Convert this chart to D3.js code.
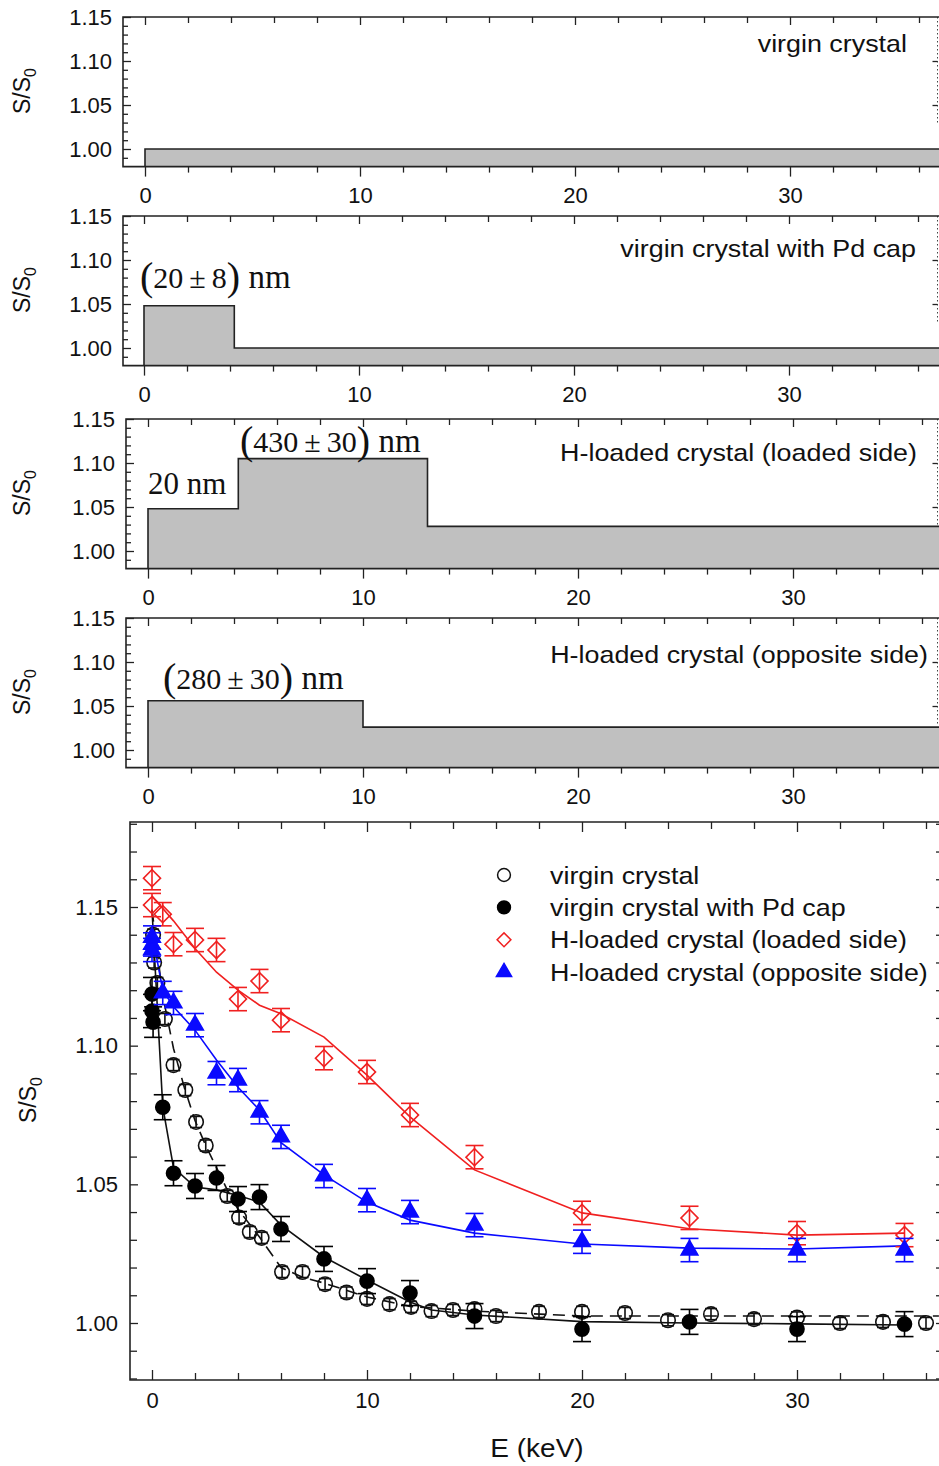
<!DOCTYPE html>
<meta charset="utf-8">
<head>
  <title>Positron S parameter profiles</title>
</head>
<style>
body { margin: 0; background: #fff; }
svg { display: block; font-family: "Liberation Sans", Arial, sans-serif; }
.serif { font-family: "Liberation Serif", "Times New Roman", serif; }
</style>
<body>
  <div id="content"></div>
  <script src="https://cdnjs.cloudflare.com/ajax/libs/d3/7.8.5/d3.min.js"></script>
  <script>

// --- step profiles of the four fitted layer models (E in keV, S/S0)
var profVirgin   = [[0, 1.000]];
var profPdCap    = [[0, 1.048], [4.2, 1.000]];
var profLoaded   = [[0, 1.048], [4.2, 1.105], [13.0, 1.028]];
var profOpposite = [[0, 1.056], [10.0, 1.026]];

var panelTitles = ['virgin crystal', 'virgin crystal with Pd cap',
  'H-loaded crystal (loaded side)', 'H-loaded crystal (opposite side)'];
var xTickLabels = [0, 10, 20, 30];
var yTickLabels = [1.00, 1.05, 1.10, 1.15];

// --- measured points, bottom panel
var virginE = [0.05, 0.1, 0.25, 0.6, 1.0, 1.55, 2.05, 2.5, 3.5, 4.05, 4.55, 5.1, 6.05, 7.0, 8.05, 9.05, 10.0, 11.05, 12.05, 13.0, 14.0, 15.0, 16.0, 18.0, 20.0, 22.0, 24.0, 26.0, 28.0, 30.0, 32.0, 34.0, 36.0];
var virginS = [1.140, 1.130, 1.1226, 1.1096, 1.093, 1.084, 1.0725, 1.064, 1.0458, 1.038, 1.0328, 1.0307, 1.0184, 1.0184, 1.014, 1.011, 1.0087, 1.0068, 1.0058, 1.0043, 1.0047, 1.005, 1.0025, 1.004, 1.004, 1.0036, 1.001, 1.0032, 1.0014, 1.002, 1.000, 1.0004, 1.000];
var virginErr = 0.002;

var pdE = [0, 0, 0.05, 0.5, 1, 2, 3, 4, 5, 6, 8, 10, 12, 15, 20, 25, 30, 35];
var pdS = [1.1186, 1.1125, 1.1085, 1.0778, 1.054, 1.0494, 1.0523, 1.0447, 1.0454, 1.0339, 1.0231, 1.0151, 1.0108, 1.0025, 0.9978, 1.0004, 0.9978, 0.9996];
var pdErr = [0.006, 0.006, 0.0055, 0.0045, 0.0045, 0.0045, 0.0045, 0.0045, 0.0045, 0.0045, 0.0045, 0.0045, 0.0045, 0.0045, 0.0045, 0.0045, 0.0045, 0.0045];

var loadedE = [0, 0, 0.5, 1, 2, 3, 4, 5, 6, 8, 10, 12, 15, 20, 25, 30, 35];
var loadedS = [1.1604, 1.1507, 1.1474, 1.1366, 1.1381, 1.1345, 1.1168, 1.1233, 1.1092, 1.0955, 1.0905, 1.075, 1.0598, 1.0397, 1.0379, 1.0324, 1.0317];
var loadedErr = 0.0042;

var oppE = [0, 0, 0, 0.5, 1, 2, 3, 4, 5, 6, 8, 10, 12, 15, 20, 25, 30, 35];
var oppS = [1.139, 1.1365, 1.1345, 1.119, 1.1154, 1.1074, 1.0901, 1.0876, 1.076, 1.0671, 1.053, 1.0443, 1.04, 1.0353, 1.0293, 1.0263, 1.0263, 1.0263];
var oppErr = 0.0042;

// --- fitted curves
var fitVirginE = [0, 0.5, 1, 1.5, 2, 2.5, 3, 3.5, 4, 5, 6, 7, 8, 10, 12, 15, 20, 25, 30, 36.6];
var fitVirginS = [1.149, 1.118, 1.099, 1.085, 1.073, 1.064, 1.056, 1.048, 1.041, 1.031, 1.020, 1.0165, 1.0144, 1.0094, 1.006, 1.0043, 1.0025, 1.0025, 1.0025, 1.0025];
var fitPdE = [0, 0.5, 1, 2, 3, 4, 5, 6, 8, 10, 12, 13, 15, 20, 25, 30, 35];
var fitPdS = [1.149, 1.078, 1.056, 1.049, 1.048, 1.046, 1.0436, 1.0353, 1.0238, 1.0155, 1.0076, 1.0047, 1.0029, 1.0005, 1.000, 0.9997, 0.9993];
var fitLoadedE = [0, 1, 2, 3, 4, 5, 6, 8, 10, 12, 15, 20, 25, 30, 35];
var fitLoadedS = [1.154, 1.145, 1.135, 1.1265, 1.120, 1.1146, 1.1115, 1.1031, 1.0894, 1.0743, 1.0552, 1.0397, 1.034, 1.0317, 1.0324];
var fitOppE = [0, 0.5, 1, 2, 3, 4, 5, 6, 8, 10, 12, 15, 20, 25, 30, 35];
var fitOppS = [1.1406, 1.120, 1.114, 1.1056, 1.0948, 1.085, 1.0768, 1.065, 1.0534, 1.0436, 1.0371, 1.0324, 1.0285, 1.027, 1.0267, 1.0278];

var W = 939, H = 1466;
var RED = '#f02020', BLUE = '#0a0aff';
var STRETCH = 1.12;   // the original figure is a bit wider than tall

var svg = d3.select('#content').append('svg')
  .attr('width', W).attr('height', H);

function zip(a, b) { return a.map(function(d, i) { return [d, b[i]]; }); }

// text stretched horizontally like in the source figure
function wideText(x, y, anchor, size, str) {
  return svg.append('text')
    .attr('transform', 'translate(' + x + ',' + y + ') scale(' + STRETCH + ',1)')
    .attr('text-anchor', anchor).style('font-size', size + 'px')
    .attr('fill', '#111').text(str);
}

function yLabel(x, y) {
  var t = svg.append('text')
    .attr('transform', 'translate(' + x + ',' + y + ') rotate(-90)')
    .attr('text-anchor', 'middle')
    .style('font-size', '23px').attr('fill', '#111');
  t.append('tspan').text('S/S');
  t.append('tspan').attr('dy', 6).style('font-size', '16px').text('0');
}

// math-like label: big parens around "a ± b", then unit
function mathLabel(x, y, a, b) {
  var t = svg.append('text').attr('class', 'serif').attr('x', x).attr('y', y)
    .style('font-size', '30px').attr('fill', '#111');
  t.append('tspan').style('font-size', '40px').attr('dy', 2).text('(');
  t.append('tspan').attr('dy', -2).text(a + '\u2009\u00b1\u2009' + b);
  t.append('tspan').style('font-size', '40px').attr('dy', 2).text(')');
  t.append('tspan').attr('dy', -2).style('font-size', '33px').text(' nm');
}

function frame(g, left, top, bottom) {
  g.append('path')
    .attr('d', 'M' + W + ',' + top + 'H' + left + 'V' + bottom + 'H' + W)
    .attr('fill', 'none').attr('stroke', '#222').attr('stroke-width', 1.6);
}

function clean(sel) { sel.select('.domain').remove(); return sel; }

// ---------------- top four panels
var topLayout = [
  {top: 17, left: 123, zero: 145},
  {top: 216, left: 123, zero: 144},
  {top: 419, left: 126, zero: 148},
  {top: 618, left: 126, zero: 148}
];
var profiles = [profVirgin, profPdCap, profLoaded, profOpposite];
var minorX = d3.range(2, 38, 2).filter(function(d) { return d % 10; });
var minorY = d3.range(0.99, 1.145, 0.01).map(function(d) { return +d.toFixed(2); })
  .filter(function(d) { return Math.round(d * 100) % 5; });

topLayout.forEach(function(L, i) {
  var bottom = L.top + 0.17 * 880;
  var x = d3.scaleLinear()
    .domain([(L.left - L.zero) / 21.5, (W - L.zero) / 21.5])
    .range([L.left, W]);
  var y = d3.scaleLinear().domain([0.98, 1.15]).range([bottom, L.top]);
  var g = svg.append('g');
  var xmax = x.domain()[1];

  var prof = profiles[i].concat([[xmax, profiles[i][profiles[i].length - 1][1]]]);
  g.append('path').datum(prof)
    .attr('fill', '#c0c0c0')
    .attr('d', d3.area().curve(d3.curveStepAfter)
      .x(function(d) { return x(d[0]); })
      .y0(y(0.98)).y1(function(d) { return y(d[1]); }));
  g.append('path').datum([[0, 0.98]].concat(prof))
    .attr('fill', 'none').attr('stroke', '#222').attr('stroke-width', 1.6)
    .attr('d', d3.line().curve(d3.curveStepAfter)
      .x(function(d) { return x(d[0]); })
      .y(function(d) { return y(d[1]); }));

  // axes
  clean(g.append('g').attr('transform', 'translate(0,' + bottom + ')')
    .call(d3.axisBottom(x).tickValues(xTickLabels).tickSize(10).tickPadding(11)
      .tickFormat(d3.format('d'))))
    .style('font-size', '22px');
  clean(g.append('g').attr('transform', 'translate(0,' + bottom + ')')
    .call(d3.axisBottom(x).tickValues(minorX).tickSize(6).tickFormat('')));
  clean(g.append('g').attr('transform', 'translate(0,' + L.top + ')')
    .call(d3.axisTop(x).tickValues(xTickLabels).tickSize(-8).tickFormat('')));
  clean(g.append('g').attr('transform', 'translate(0,' + L.top + ')')
    .call(d3.axisTop(x).tickValues(minorX).tickSize(-6).tickFormat('')));
  clean(g.append('g').attr('transform', 'translate(' + L.left + ',0)')
    .call(d3.axisLeft(y).tickValues(yTickLabels).tickSize(-8).tickPadding(11)
      .tickFormat(d3.format('.2f'))))
    .style('font-size', '22px');
  clean(g.append('g').attr('transform', 'translate(' + L.left + ',0)')
    .call(d3.axisLeft(y).tickValues(minorY).tickSize(-5).tickFormat('')));
  // right axis, half cut off in the original
  g.append('line').attr('x1', 937.5).attr('x2', 937.5).attr('y1', L.top).attr('y2', y(1.03))
    .attr('stroke', '#444').attr('stroke-dasharray', '1.5,2.5');
  clean(g.append('g').attr('transform', 'translate(937.5,0)')
    .call(d3.axisRight(y).tickValues([1.05, 1.10]).tickSize(-5).tickFormat('')));

  g.selectAll('.tick line').attr('stroke', '#222').attr('stroke-width', 1.3);
  g.selectAll('.tick text').attr('fill', '#111');
  frame(g, L.left, L.top, bottom);

  yLabel(30, L.top + 74);
});

// panel titles and layer annotations
var titleAnchor = [[907, 52], [916, 257], [917, 461], [928, 663]];
panelTitles.forEach(function(t, i) {
  wideText(titleAnchor[i][0], titleAnchor[i][1], 'end', 24, t);
});
mathLabel(140, 288, '20', '8');
mathLabel(240, 452, '430', '30');
mathLabel(163, 689, '280', '30');
svg.append('text').attr('class', 'serif').attr('x', 148).attr('y', 494)
  .style('font-size', '31px').attr('fill', '#111').text('20 nm');

// ---------------- bottom panel
var B = {left: 130, top: 822, bottom: 1380, zero: 152};
var bx = d3.scaleLinear()
  .domain([(B.left - B.zero) / 21.5, (W - B.zero) / 21.5])
  .range([B.left, W]);
var by = d3.scaleLinear().domain([1.00, 1.15]).range([1323, 907]);
var gb = svg.append('g');

var minorYB = d3.range(0.98, 1.185, 0.01).map(function(d) { return +d.toFixed(2); })
  .filter(function(d) { return Math.round(d * 100) % 5; });

clean(gb.append('g').attr('transform', 'translate(0,' + B.bottom + ')')
  .call(d3.axisBottom(bx).tickValues(xTickLabels).tickSize(-10).tickPadding(12)
    .tickFormat(d3.format('d'))))
  .style('font-size', '22px');
clean(gb.append('g').attr('transform', 'translate(0,' + B.bottom + ')')
  .call(d3.axisBottom(bx).tickValues(minorX).tickSize(-7).tickFormat('')));
clean(gb.append('g').attr('transform', 'translate(0,' + B.top + ')')
  .call(d3.axisTop(bx).tickValues(xTickLabels).tickSize(-10).tickFormat('')));
clean(gb.append('g').attr('transform', 'translate(0,' + B.top + ')')
  .call(d3.axisTop(bx).tickValues(minorX).tickSize(-7).tickFormat('')));
clean(gb.append('g').attr('transform', 'translate(' + B.left + ',0)')
  .call(d3.axisLeft(by).tickValues(yTickLabels).tickSize(-8).tickPadding(12)
    .tickFormat(d3.format('.2f'))))
  .style('font-size', '22px');
clean(gb.append('g').attr('transform', 'translate(' + B.left + ',0)')
  .call(d3.axisLeft(by).tickValues(minorYB).tickSize(-7).tickFormat('')));
clean(gb.append('g').attr('transform', 'translate(939,0)')
  .call(d3.axisRight(by).tickValues(minorYB.concat(yTickLabels)).tickSize(-3).tickFormat('')));
gb.selectAll('.tick line').attr('stroke', '#222').attr('stroke-width', 1.3);
gb.selectAll('.tick text').attr('fill', '#111');
frame(gb, B.left, B.top, B.bottom);

yLabel(36, 1100);
wideText(537, 1457, 'middle', 25, 'E (keV)');

// fit curves
var line = d3.line().x(function(d) { return bx(d[0]); }).y(function(d) { return by(d[1]); });
var fits = [
  {pts: zip(fitVirginE, fitVirginS), color: '#111', dash: '12,7'},
  {pts: zip(fitPdE, fitPdS), color: '#111', dash: null},
  {pts: zip(fitLoadedE, fitLoadedS), color: RED, dash: null},
  {pts: zip(fitOppE, fitOppS), color: BLUE, dash: null}
];
fits.forEach(function(f) {
  gb.append('path').datum(f.pts)
    .attr('fill', 'none').attr('stroke', f.color).attr('stroke-width', 1.6)
    .attr('stroke-dasharray', f.dash)
    .attr('d', line);
});

// error bars + markers
var series = [
  {E: virginE, S: virginS, err: virginE.map(function() { return virginErr; }), color: '#111',
    type: d3.symbolCircle, size: 165, lsize: 130, fill: 'none', rot: 0, cap: 6},
  {E: pdE, S: pdS, err: pdErr, color: '#000',
    type: d3.symbolCircle, size: 155, lsize: 130, fill: '#000', rot: 0, cap: 9},
  {E: loadedE, S: loadedS, err: loadedE.map(function() { return loadedErr; }), color: RED,
    type: d3.symbolSquare, size: 145, lsize: 95, fill: 'none', rot: 45, cap: 9},
  {E: oppE, S: oppS, err: oppE.map(function() { return oppErr; }), color: BLUE,
    type: d3.symbolTriangle, size: 120, lsize: 100, fill: BLUE, rot: 0, cap: 9}
];

series.forEach(function(s) {
  var pts = s.E.map(function(e, i) { return {e: e, v: s.S[i], er: s.err[i]}; });
  var eb = gb.append('g').attr('stroke', s.color).attr('stroke-width', 1.6);
  pts.forEach(function(p) {
    var cx = bx(p.e), y1 = by(p.v + p.er), y2 = by(p.v - p.er);
    eb.append('line').attr('x1', cx).attr('x2', cx).attr('y1', y1).attr('y2', y2);
    eb.append('line').attr('x1', cx - s.cap).attr('x2', cx + s.cap).attr('y1', y1).attr('y2', y1);
    eb.append('line').attr('x1', cx - s.cap).attr('x2', cx + s.cap).attr('y1', y2).attr('y2', y2);
  });
  gb.append('g').selectAll('path').data(pts).join('path')
    .attr('transform', function(p) {
      return 'translate(' + bx(p.e) + ',' + by(p.v) + ') rotate(' + s.rot + ')';
    })
    .attr('d', d3.symbol().type(s.type).size(s.size)())
    .attr('fill', s.fill).attr('stroke', s.color).attr('stroke-width', 1.6);
});

// legend
var legendNames = ['virgin crystal', 'virgin crystal with Pd cap',
  'H-loaded crystal (loaded side)', 'H-loaded crystal (opposite side)'];
legendNames.forEach(function(name, i) {
  var s = series[i], ly = 875 + i * 32.4;
  svg.append('path')
    .attr('transform', 'translate(504,' + ly + ') rotate(' + s.rot + ')')
    .attr('d', d3.symbol().type(s.type).size(s.lsize)())
    .attr('fill', s.fill).attr('stroke', s.color).attr('stroke-width', 1.5);
  wideText(550, ly + 8.5, 'start', 24, name);
});
</script>
</body>
</html>
